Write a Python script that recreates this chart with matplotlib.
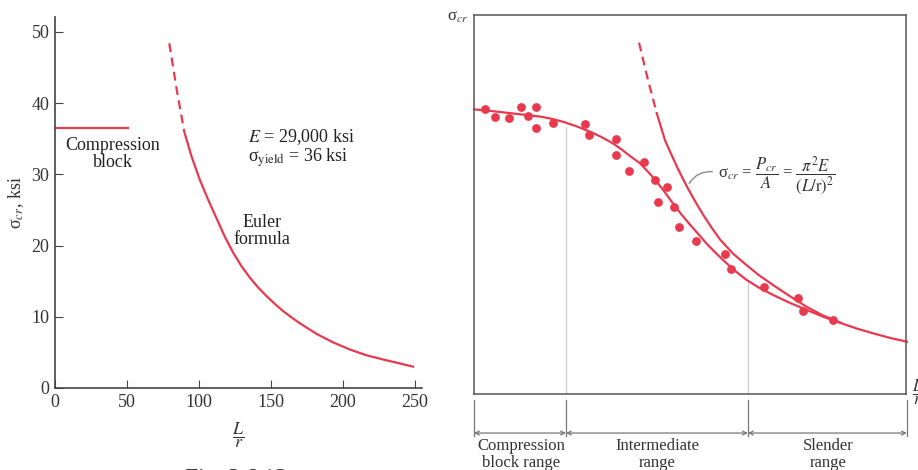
import numpy as np
import matplotlib
matplotlib.use('Agg')
import matplotlib.pyplot as plt

plt.rcParams['font.family'] = ['Liberation Serif', 'DejaVu Serif']
plt.rcParams['mathtext.fontset'] = 'stix'

red = '#e8394f'
gray = '#555555'

#
# left panel data
#
block_lr = [0, 50.5]
block_sig = [36.5, 36.5]

euler_dash_lr = [79.4, 84.5, 89.8]
euler_dash_sig = [48.4, 42.0, 36.0]
euler_lr = [89.8, 94.9, 100.7, 106.5, 112.3, 118.1, 123.8, 129.6, 135.4, 141.2,
            147.0, 152.8, 158.5, 164.4, 170.1, 181.7, 193.3, 204.9, 216.4, 228.0,
            239.6, 248.8]
euler_sig = [36.0, 32.5, 29.2, 26.4, 23.8, 21.2, 19.0, 17.1, 15.5, 14.1,
             12.9, 11.8, 10.8, 9.9, 9.1, 7.6, 6.4, 5.4, 4.6, 4.0,
             3.45, 3.0]

left_xticks = [0, 50, 100, 150, 200, 250]
left_yticks = [0, 10, 20, 30, 40, 50]

#
# right panel data (arbitrary units)
#
fit_x = [0, 3.8, 7.6, 11.5, 15.3, 18.0, 20.7, 23.8, 26.9, 29.5, 32.2, 34.2, 36.1,
         38.4, 40.4, 42.3, 44.2, 46.1, 48.0, 50.0, 52.0, 53.9, 55.8, 57.7, 60.3,
         63.1, 66.2, 69.3, 73.0, 77.0, 80.8, 84.7, 88.5, 92.4, 96.3, 100.2]
fit_y = [75.1, 74.7, 74.2, 73.7, 73.2, 72.6, 71.8, 70.6, 69.2, 67.8, 66.1, 64.5, 62.8,
         60.9, 58.5, 56.0, 53.2, 50.2, 47.4, 44.7, 42.1, 39.6, 37.4, 35.3, 32.6,
         30.1, 27.9, 26.1, 24.1, 22.2, 20.4, 18.8, 17.3, 16.0, 14.8, 13.8]

euler2_dash_x = [38.2, 40.2, 42.3]
euler2_dash_y = [92.7, 83.2, 74.1]
euler2_x = [42.3, 44.2, 45.4, 47.3, 49.2, 51.2, 53.1, 55.0, 57.0, 60.0, 63.1, 66.0,
            69.3, 73.0, 77.0, 80.8, 84.7]
euler2_y = [74.1, 67.0, 63.9, 59.2, 54.9, 50.8, 47.2, 43.9, 40.7, 37.0, 34.0, 31.3,
            28.7, 25.9, 23.0, 20.7, 18.9]

test_x = [2.5, 4.9, 8.1, 10.8, 12.5, 14.4, 14.4, 18.3, 25.7, 26.6, 32.8, 32.8,
          35.8, 39.4, 41.9, 44.7, 42.5, 46.3, 47.5, 51.5, 58.1, 59.6, 67.1,
          74.9, 76.2, 83.2]
test_y = [75.1, 73.0, 72.9, 75.8, 73.4, 75.6, 70.3, 71.6, 71.3, 68.4, 67.2, 63.1,
          58.9, 61.3, 56.5, 54.5, 50.7, 49.4, 44.0, 40.4, 36.9, 32.9, 28.2,
          25.2, 22.0, 19.5]

range_edges = [0, 21.3, 63.4, 100.2]
range_names = ['Compression\nblock range', 'Intermediate\nrange', 'Slender\nrange']
range_centers = [10.9, 42.4, 81.9]

fig = plt.figure(figsize=(9.18, 4.7), dpi=100)
fig.patch.set_facecolor('white')

#
# left: Euler curve vs compression block
#
ax1 = fig.add_axes([55/918, 1-388/470, 367/918, 371/470])
ax1.set_xlim(0, 255)
ax1.set_ylim(0, 52.1)
for s in ['top', 'right']:
    ax1.spines[s].set_visible(False)
for s in ['left', 'bottom']:
    ax1.spines[s].set_color('#444444')
    ax1.spines[s].set_linewidth(1.2)
ax1.set_xticks(left_xticks)
ax1.set_yticks(left_yticks)
ax1.tick_params(direction='in', length=6, color='#444444', labelsize=13,
                labelcolor='#333333', pad=4)

ax1.plot(block_lr, block_sig, color=red, lw=1.6)
ax1.plot(euler_dash_lr, euler_dash_sig, color=red, lw=1.6, dashes=(4, 2.5))
ax1.plot(euler_lr, euler_sig, color=red, lw=1.6, solid_joinstyle='round')

ax1.text(40.3, 32.9, 'Compression\nblock', ha='center', va='center', fontsize=13,
         linespacing=1.0, color='#222222')
ax1.text(134, 35.3, '$E$ = 29,000 ksi', ha='left', va='center', fontsize=13,
         color='#222222')
ax1.text(134, 32.3, 'σ$_{\\mathrm{yield}}$ = 36 ksi', ha='left', va='center',
         fontsize=13, color='#222222')
ax1.text(143.8, 22.0, 'Euler\nformula', ha='center', va='center', fontsize=13,
         linespacing=1.0, color='#222222')
ax1.set_ylabel('σ$_{cr}$, ksi', fontsize=13, color='#333333', labelpad=4)
ax1.set_xlabel('$\\dfrac{L}{r}$', fontsize=13, color='#333333', labelpad=7)

#
# right: test data, inelastic fit, Euler
#
ax2 = fig.add_axes([474/918, 1-394/470, 432/918, 379/470])
ax2.set_xlim(0, 100)
ax2.set_ylim(0, 100)
ax2.set_xticks([])
ax2.set_yticks([])
for s in ax2.spines.values():
    s.set_color(gray)
    s.set_linewidth(1.1)

ax2.plot([range_edges[1], range_edges[1]], [0, 70.5], color='#c8c8c8', lw=0.8)
ax2.plot([range_edges[2], range_edges[2]], [0, 29.5], color='#c8c8c8', lw=0.8)

ax2.plot(fit_x, fit_y, color=red, lw=1.6, clip_on=False, solid_joinstyle='round')
ax2.plot(euler2_dash_x, euler2_dash_y, color=red, lw=1.6, dashes=(4, 2.5))
ax2.plot(euler2_x, euler2_y, color=red, lw=1.6, solid_joinstyle='round')
ax2.scatter(test_x, test_y, s=40, color=red, zorder=3, linewidths=0)

ax2.annotate('', xy=(49.5, 54.9), xytext=(55.8, 58.6),
             arrowprops=dict(arrowstyle='-', color='#888888', lw=1.0,
                             connectionstyle='arc3,rad=0.35'))
ax2.text(56.5, 57.5,
         'σ$_{cr}$ = $\\dfrac{P_{cr}}{A}$ = $\\dfrac{\\pi^2 E}{(L/\\mathrm{r})^2}$',
         ha='left', va='center', fontsize=12, color='#333333')

# range brackets under the axis
for xe in range_edges:
    ax2.plot([xe, xe], [-1.6, -11.1], color='#777777', lw=0.9, clip_on=False)
for i in range(3):
    ax2.annotate('', xy=(range_edges[i], -10.3), xytext=(range_edges[i+1], -10.3),
                 xycoords='data', annotation_clip=False,
                 arrowprops=dict(arrowstyle='<->', color='#777777', lw=0.9,
                                 shrinkA=0, shrinkB=0, mutation_scale=7))
    ax2.text(range_centers[i], -11.6, range_names[i], ha='center', va='top',
             fontsize=12, linespacing=1.05, color='#333333')

fig.text(447/918, 1-17/470, 'σ$_{cr}$', ha='left', va='center', fontsize=12,
         color='#333333')
fig.text(912/918, 1-392/470, '$\\dfrac{L}{r}$', ha='left', va='center',
         fontsize=12, color='#333333')
# caption, cut off at the bottom edge like the scan
fig.text(185/918, 1-468/470, 'Fig. 3.6.13', ha='left', va='top', fontsize=17,
         color='#333333')

fig.savefig('out.png', dpi=100, facecolor='white')
